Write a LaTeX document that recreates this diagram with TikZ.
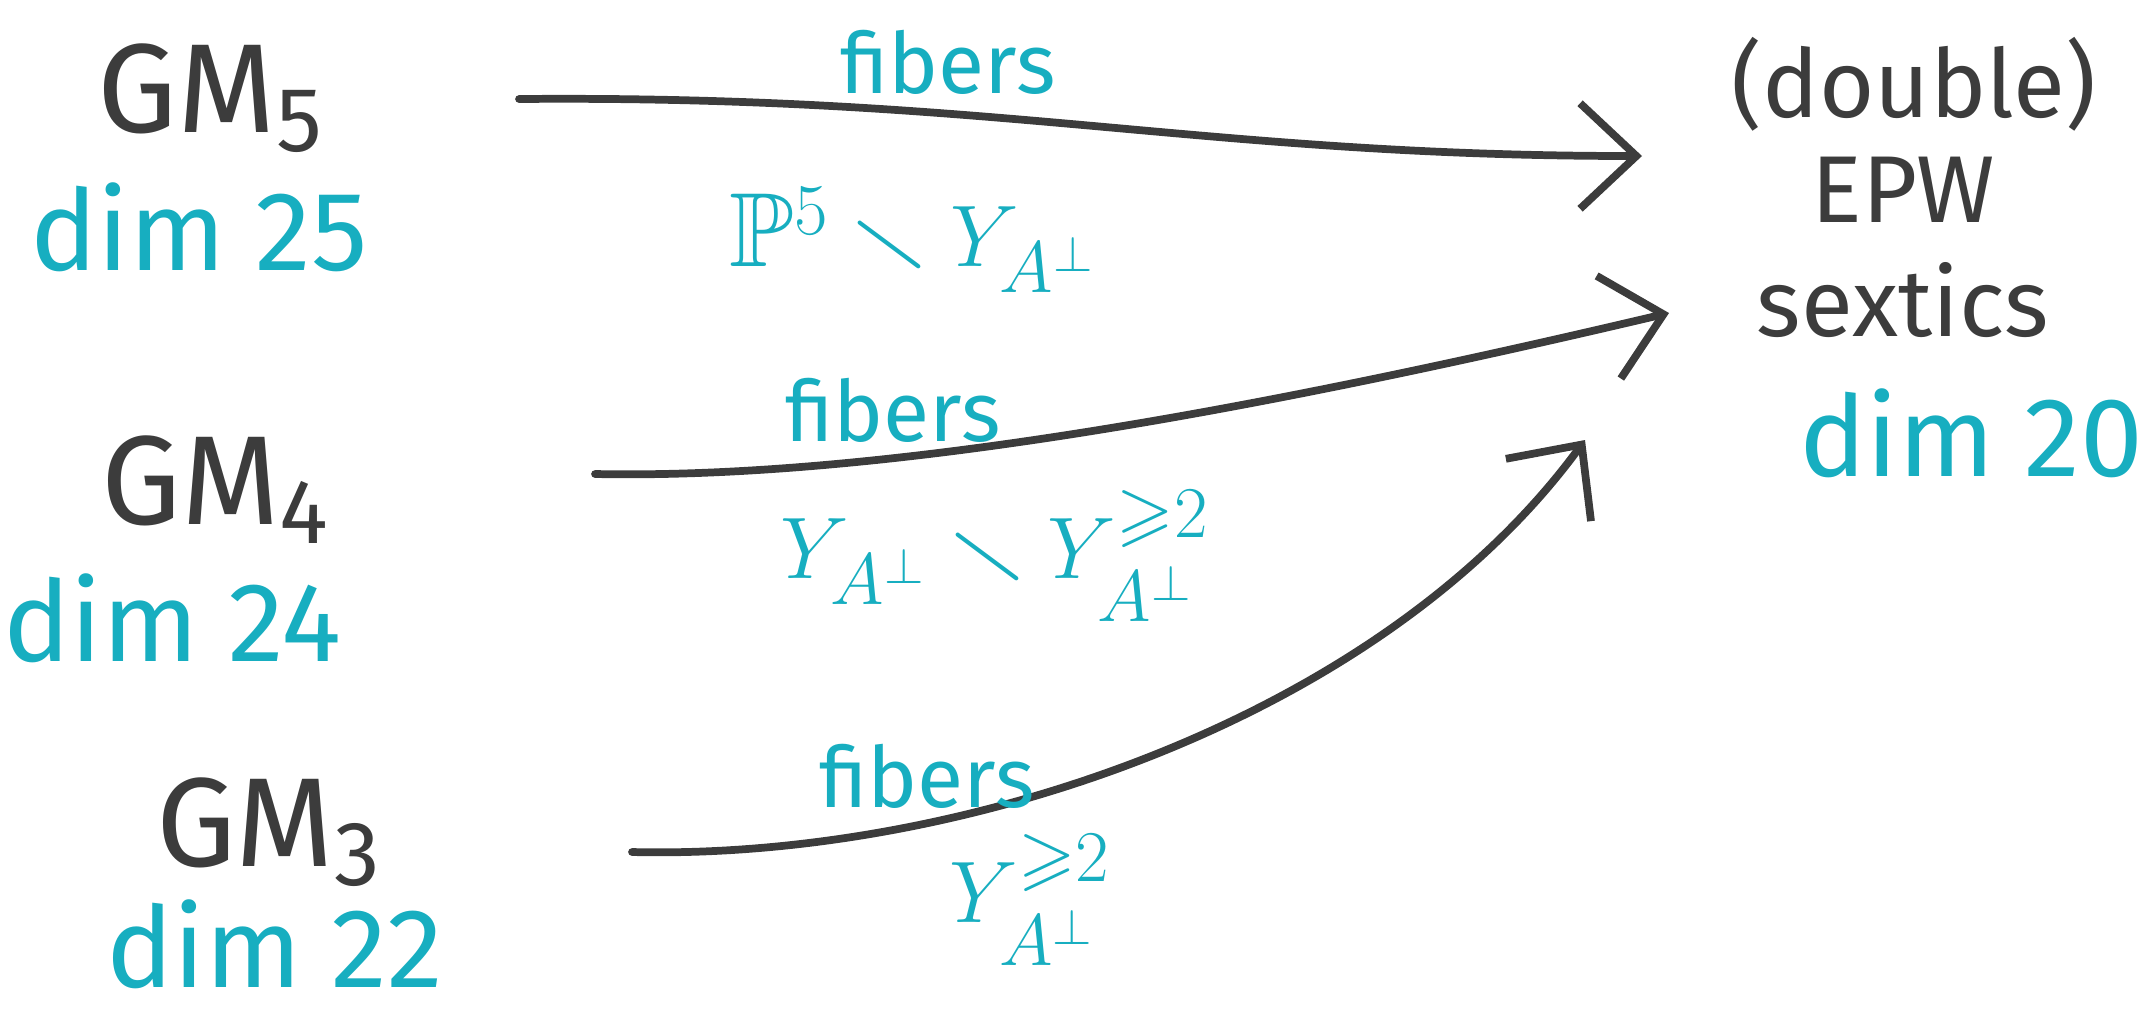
\documentclass[tikz,border=0pt]{standalone}
\usepackage{fontspec}
\usepackage{amssymb}
\setmainfont{Fira Sans}
\usetikzlibrary{arrows.meta}
\definecolor{ink}{HTML}{3C3C3C}
\definecolor{teal}{HTML}{17AEC0}
\newcommand{\lowsub}[1]{\raisebox{-0.15em}{\fontsize{26}{30}\selectfont #1}}
\begin{document}
\begin{tikzpicture}[x=0.01cm,y=-0.01cm,
  big/.style={text=ink,font=\fontsize{36}{40}\selectfont,inner sep=0pt},
  dimt/.style={text=teal,font=\fontsize{32}{36}\selectfont,inner sep=0pt},
  fib/.style={text=teal,font=\fontsize{24}{28}\selectfont,inner sep=0pt},
  lab/.style={text=teal,font=\fontsize{30}{34}\selectfont,inner sep=0pt},
  tgt/.style={text=ink,font=\fontsize{27}{32}\selectfont,inner sep=0pt},
  arr/.style={draw=ink,line width=2.2pt,line cap=round,-{Straight Barb[length=16pt,width=30pt,line width=2.2pt]}}]
\useasboundingbox (0,0) rectangle (2154,1014);
% sources
\node[big] (gm5) at (210,98) {GM\lowsub{5}};
\node[dimt] (d25) at (199,227) {dim 25};
\node[big] (gm4) at (215,490) {GM\lowsub{4}};
\node[dimt] (d24) at (172,618) {dim 24};
\node[big] (gm3) at (268,832) {GM\lowsub{3}};
\node[dimt] (d22) at (275,944) {dim 22};
% target
\node[tgt] (dbl) at (1914,84) {(double)};
\node[tgt] (epw) at (1903,190) {EPW};
\node[tgt] (sex) at (1903,300) {sextics};
\node[dimt] (d20) at (1971,433) {dim 20};
% arrow ends
\coordinate (s1) at (519,99);
\coordinate (t1) at (1642,156);
\coordinate (s2) at (595,474);
\coordinate (t2) at (1669,313);
\coordinate (s3) at (632,852);
\coordinate (t3) at (1585,440);
\draw[arr] (s1) .. controls (1000,95) and (1200,156) .. (t1);
\draw[arr] (s2) .. controls (900,480) and (1300,400) .. (t2);
\draw[arr] (s3) .. controls (960,860) and (1380,720) .. (t3);
% labels
\node[fib] (f1) at (948,62) {fibers};
\node[lab] (l1) at (913,240) {$\mathbb{P}^5\smallsetminus Y_{A^\perp}$};
\node[fib] (f2) at (893,410) {fibers};
\node[lab] (l2) at (995,556) {$Y_{A^\perp}\smallsetminus Y_{A^\perp}^{\geqslant 2}$};
\node[fib] (f3) at (927,776) {fibers};
\node[lab] (l3) at (1030,900) {$Y_{A^\perp}^{\geqslant 2}$};
\end{tikzpicture}
\end{document}
